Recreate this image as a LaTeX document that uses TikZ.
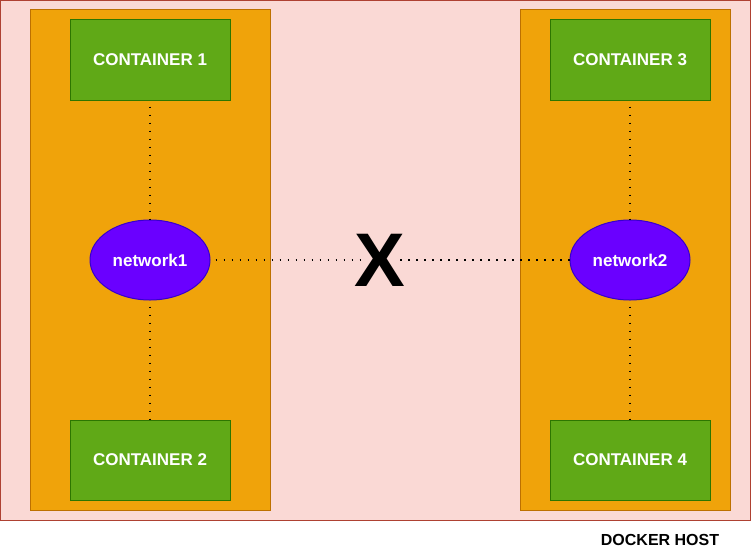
\documentclass[tikz,border=0pt]{standalone}
\usepackage{fontspec}
\setmainfont{Liberation Sans}
\usetikzlibrary{shapes.geometric}
\definecolor{hostfill}{HTML}{FAD9D5}
\definecolor{hostdraw}{HTML}{AE4132}
\definecolor{colfill}{HTML}{F0A30A}
\definecolor{coldraw}{HTML}{BD7000}
\definecolor{ctrfill}{HTML}{60A917}
\definecolor{ctrdraw}{HTML}{2D7600}
\definecolor{netfill}{HTML}{6A00FF}
\definecolor{netdraw}{HTML}{3700CC}
\begin{document}
\begin{tikzpicture}[x=1pt,y=-1pt,
  hostbox/.style={fill=hostfill,draw=hostdraw,line width=1pt},
  colbox/.style={fill=colfill,draw=coldraw,line width=1pt},
  ctr/.style={rectangle,fill=ctrfill,draw=ctrdraw,line width=1pt,minimum width=160pt,minimum height=80pt,inner sep=0pt,text=white,font=\fontsize{17}{20}\selectfont\bfseries},
  net/.style={ellipse,fill=netfill,draw=netdraw,line width=1pt,minimum width=120pt,minimum height=80pt,inner sep=0pt,text=white,font=\fontsize{17}{20}\selectfont\bfseries},
  link/.style={line width=1.8pt,dash pattern=on 1.8pt off 6.2pt,black},
]
\useasboundingbox (0,0) rectangle (751,551);
\fill[white] (0,0) rectangle (751,551);
\draw[hostbox] (0.5,0.5) rectangle (750,520);
\draw[colbox] (30,10) rectangle (270,510);
\draw[colbox] (520,10) rectangle (730,510);
\node[ctr] (c1) at (150,60) {CONTAINER 1};
\node[ctr] (c2) at (150,460) {CONTAINER 2};
\node[ctr] (c3) at (630,60) {CONTAINER 3};
\node[ctr] (c4) at (630,460) {CONTAINER 4};
\node[net] (n1) at (150,260) {network1};
\node[net] (n2) at (630,260) {network2};
\node[font=\fontsize{76}{80}\selectfont\bfseries,inner sep=0pt,outer sep=0pt] (x) at (380,260) {X};
\node[font=\fontsize{16}{19}\selectfont\bfseries] (host) at (660,540) {DOCKER HOST};
\draw[link] ([yshift=-6pt]c1.south) -- (n1.north);
\draw[link] ([yshift=-6pt]n1.south) -- (c2.north);
\draw[link] ([yshift=-6pt]c3.south) -- (n2.north);
\draw[link] ([yshift=-6pt]n2.south) -- (c4.north);
\draw[link] ([xshift=5pt]n1.east) -- ([xshift=5pt]x.west);
\draw[link] ([xshift=-5pt]x.east) -- (n2.west);
\end{tikzpicture}
\end{document}
